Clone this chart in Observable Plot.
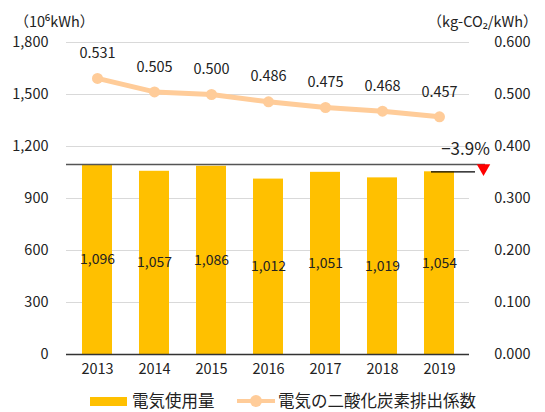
<!DOCTYPE html>
<html><head><meta charset="utf-8">
<script src="https://cdn.jsdelivr.net/npm/d3@7"></script>
<script src="https://cdn.jsdelivr.net/npm/@observablehq/plot@0.6"></script>
<style>
body{margin:0;background:#fff;font-family:"Noto Sans CJK JP","Noto Sans",sans-serif;}
#wrap{position:relative;width:545px;height:412px;}
#legend{position:absolute;left:0;top:385px;width:545px;height:27px;font-size:16.5px;color:#222;}
.sw{position:absolute;}
</style>
</head><body>
<div id="wrap"><div id="chart"></div><div id="legend"></div></div>
<script>
const years = ["2013","2014","2015","2016","2017","2018","2019"];
const usage = [1096,1057,1086,1012,1051,1019,1054];
const co2 = [0.531,0.505,0.500,0.486,0.475,0.468,0.457];
const leftTicks = [0,300,600,900,1200,1500,1800];
const rightTicks = [0,0.1,0.2,0.3,0.4,0.5,0.6];
const leftUnit = "（10⁶kWh）";
const rightUnit = "（kg-CO₂/kWh）";
const changeLabel = "−3.9%";
const seriesNames = ["電気使用量","電気の二酸化炭素排出係数"];

const ratio = 1800/0.6;
const rows = years.map((y,i)=>({year:y, usage:usage[i], co2:co2[i], co2s:co2[i]*ratio}));
const first = usage[0], last = usage[usage.length-1], lastYear = years[years.length-1];
const fmt = d3.format(",");

const chart = Plot.plot({
  width:545, height:385,
  marginLeft:66, marginRight:76, marginTop:42, marginBottom:31,
  style:{fontFamily:'"Noto Sans CJK JP","Noto Sans",sans-serif', fontSize:"14px", color:"#222", background:"#fff"},
  x:{type:"band", domain:years, paddingInner:0.48, paddingOuter:0.24},
  y:{domain:[0,1800]},
  marks:[
    Plot.gridY(leftTicks.filter(d=>d>0), {stroke:"#d9d9d9", strokeOpacity:1}),
    Plot.barY(rows, {x:"year", y:"usage", fill:"#FFC000"}),
    Plot.ruleY([0], {stroke:"#333", strokeWidth:1.5}),
    Plot.ruleY([first], {stroke:"#555", strokeWidth:1.5, insetRight:-16}),
    Plot.tickY([{year:lastYear, v:last}], {x:"year", y:"v", stroke:"#000", strokeWidth:1.2, insetLeft:7, insetRight:-21}),
    Plot.dot([{year:lastYear, v:(first+last)/2}], {x:"year", y:"v", symbol:"triangle", rotate:180, r:5, fill:"#FF0000", stroke:"none", dx:44}),
    Plot.text([{year:lastYear, v:first, t:changeLabel}], {x:"year", y:"v", text:"t", dx:26, dy:-15, fontSize:17, fill:"#222"}),
    Plot.text(rows, {x:"year", y:d=>d.usage/2, text:d=>fmt(d.usage), fill:"#222", fontSize:14}),
    Plot.line(rows, {x:"year", y:"co2s", stroke:"#FFCC99", strokeWidth:5}),
    Plot.dot(rows, {x:"year", y:"co2s", fill:"#FFCC99", r:5.5, stroke:"none"}),
    Plot.text(rows, {x:"year", y:"co2s", text:d=>d.co2.toFixed(3), dy:-25, fill:"#222", fontSize:14.5}),
    Plot.axisY({ticks:leftTicks, tickFormat:fmt, tickSize:0, tickPadding:18, label:null, fontSize:14.5}),
    Plot.axisY({anchor:"right", ticks:rightTicks.map(t=>t*ratio), tickFormat:d=>(d/ratio).toFixed(3), tickSize:0, tickPadding:61, textAnchor:"end", label:null, fontSize:14.5}),
    Plot.axisX({tickSize:0, tickPadding:9, label:null, fontSize:14.5}),
    Plot.text([leftUnit], {frameAnchor:"top-left", text:d=>d, textAnchor:"start", dx:-52, dy:-26, fontSize:14.5, fill:"#222"}),
    Plot.text([rightUnit], {frameAnchor:"top-right", text:d=>d, textAnchor:"end", dx:68, dy:-26, fontSize:14.5, fill:"#222"})
  ]
});
document.getElementById("chart").appendChild(chart);

const lg = document.getElementById("legend");
lg.innerHTML = `
<div class="sw" style="left:90px;top:12px;width:37px;height:9px;background:#FFC000"></div>
<div class="sw" style="left:132px;top:5px;line-height:20px">${seriesNames[0]}</div>
<div class="sw" style="left:237px;top:14px;width:38px;height:4px;background:#FFCC99"></div>
<div class="sw" style="left:250px;top:10px;width:12px;height:12px;border-radius:6px;background:#FFCC99"></div>
<div class="sw" style="left:278px;top:5px;line-height:20px">${seriesNames[1]}</div>`;
</script>
</body></html>
